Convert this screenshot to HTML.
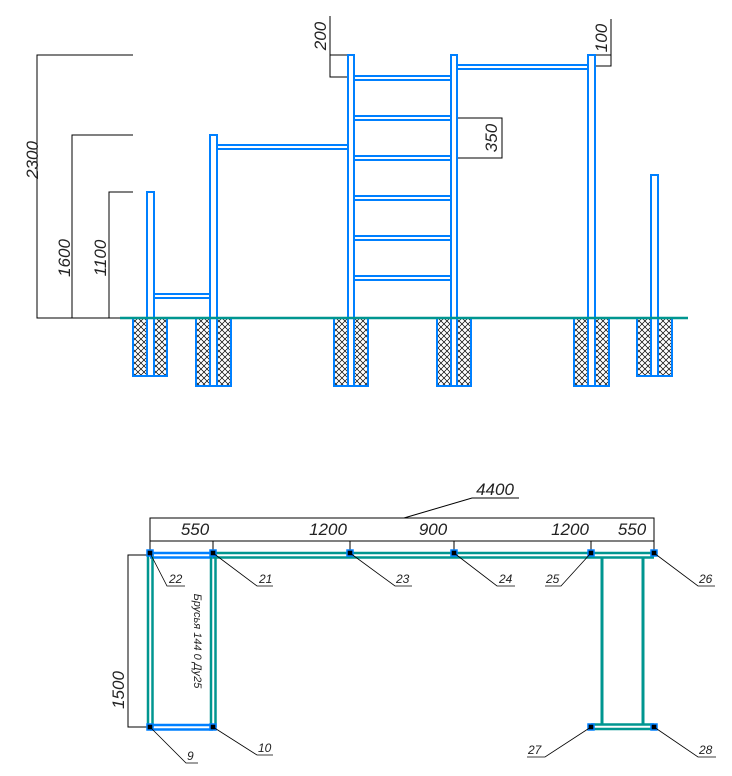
<!DOCTYPE html>
<html><head><meta charset="utf-8"><style>html,body{margin:0;padding:0;background:#fff}svg{display:block}text{font-family:"Liberation Sans","DejaVu Sans",sans-serif;font-style:italic;fill:#222}</style></head><body>
<svg width="732" height="776" viewBox="0 0 732 776" xmlns="http://www.w3.org/2000/svg">
<defs>
<pattern id="h" width="6" height="6" patternUnits="userSpaceOnUse">
<rect width="6" height="6" fill="#fff"/>
<path d="M0 0L6 6M6 0L0 6" stroke="#000" stroke-width="0.7"/>
</pattern>
</defs>
<g stroke="#000" stroke-width="1" fill="none">
<path d="M133 55H37V318H133M133 135H72V318M133 192H109V318"/>
<path d="M330 16V77H348M330 55H348"/>
<path d="M611 19V66H595M595 55H611"/>
<path d="M457 118H502V158H457"/>
</g>
<text transform="translate(38,160) rotate(-90)" font-size="17" text-anchor="middle">2300</text>
<text transform="translate(70,258) rotate(-90)" font-size="17" text-anchor="middle">1600</text>
<text transform="translate(106,258) rotate(-90)" font-size="17" text-anchor="middle">1100</text>
<text transform="translate(326,36) rotate(-90)" font-size="17" text-anchor="middle">200</text>
<text transform="translate(607,38) rotate(-90)" font-size="17" text-anchor="middle">100</text>
<text transform="translate(497,138) rotate(-90)" font-size="17" text-anchor="middle">350</text>
<g stroke="#0080ff" stroke-width="2" fill="url(#h)">
<rect x="133" y="318" width="34" height="58"/>
<rect x="196" y="318" width="35" height="68"/>
<rect x="334" y="318" width="34" height="68"/>
<rect x="437" y="318" width="34" height="68"/>
<rect x="574" y="318" width="35" height="68"/>
<rect x="637" y="318" width="35" height="58"/>
</g>
<g stroke="#0080ff" stroke-width="2" fill="#fff">
<rect x="147" y="192" width="7" height="184"/>
<rect x="210" y="135" width="7" height="251"/>
<rect x="348" y="55" width="6" height="331"/>
<rect x="451" y="55" width="6" height="331"/>
<rect x="588" y="55" width="7" height="331"/>
<rect x="651" y="175" width="7" height="201"/>
</g>
<g stroke="#0080ff" stroke-width="2">
<path d="M154 294H210M154 298H210"/>
<path d="M217 145H348M217 149H348"/>
<path d="M457 65H588M457 69H588"/>
<path d="M354 76H451M354 80H451M354 116H451M354 120H451M354 156H451M354 160H451M354 196H451M354 200H451M354 236H451M354 240H451M354 276H451M354 280H451"/>
</g>
<path d="M120 318H688" stroke="#009690" stroke-width="2.5"/>
<g stroke="#000" stroke-width="1" fill="none">
<path d="M150 541V518H654V541M150 541H654"/>
<path d="M150 541V553M213 541V553M350 541V553M454 541V553M591 541V553M654 541V553"/>
<path d="M404 518L472 498H519"/>
<path d="M150 555H128V727H150"/>
</g>
<text x="495" y="495" font-size="17" text-anchor="middle">4400</text>
<g font-size="17" text-anchor="middle">
<text x="195" y="535">550</text>
<text x="328" y="535">1200</text>
<text x="433" y="535">900</text>
<text x="570" y="535">1200</text>
<text x="632" y="535">550</text>
</g>
<text transform="translate(124,690) rotate(-90)" font-size="17" text-anchor="middle">1500</text>
<text transform="translate(194,641) rotate(90)" font-size="11" text-anchor="middle">Брусья 144 0 Ду25</text>
<g stroke-width="2.5">
<path d="M213 553H654M213 557.5H654" stroke="#009690"/>
<path d="M150 553H213M150 557.5H213M150 725H213M150 729.5H213" stroke="#0080ff"/>
<path d="M148 553V727M152.5 553V727M211 553V727M215.5 553V727" stroke="#009690"/>
<path d="M591 724.5H654M591 729H654" stroke="#009690"/>
<path d="M602 557V725M643 557V725" stroke="#009690" stroke-width="3"/>
</g>
<g fill="#000" stroke="#0080ff" stroke-width="1.5">
<rect x="147" y="550" width="6" height="6"/><rect x="210" y="550" width="6" height="6"/>
<rect x="347" y="550" width="6" height="6"/><rect x="451" y="550" width="6" height="6"/>
<rect x="588" y="550" width="6" height="6"/><rect x="651" y="550" width="6" height="6"/>
<rect x="147" y="724" width="6" height="6"/><rect x="210" y="724" width="6" height="6"/>
<rect x="588" y="724" width="6" height="6"/><rect x="651" y="724" width="6" height="6"/>
</g>
<g stroke="#000" stroke-width="0.8" fill="none">
<path d="M150 553L167 586H185M213 553L257 586H273M350 553L395 586H412M454 553L497 586H515M591 553L561 586H545M654 553L698 586H715"/>
<path d="M150 727L186 763H198M213 727L257 755H273M591 727L545 757H527M654 727L698 757H716"/>
</g>
<g font-size="12">
<text x="169" y="583">22</text><text x="259" y="583">21</text><text x="396" y="583">23</text>
<text x="499" y="583">24</text><text x="546" y="583">25</text><text x="699" y="583">26</text>
<text x="187" y="760">9</text><text x="258" y="752">10</text><text x="528" y="754">27</text><text x="699" y="754">28</text>
</g>
</svg>
</body></html>
